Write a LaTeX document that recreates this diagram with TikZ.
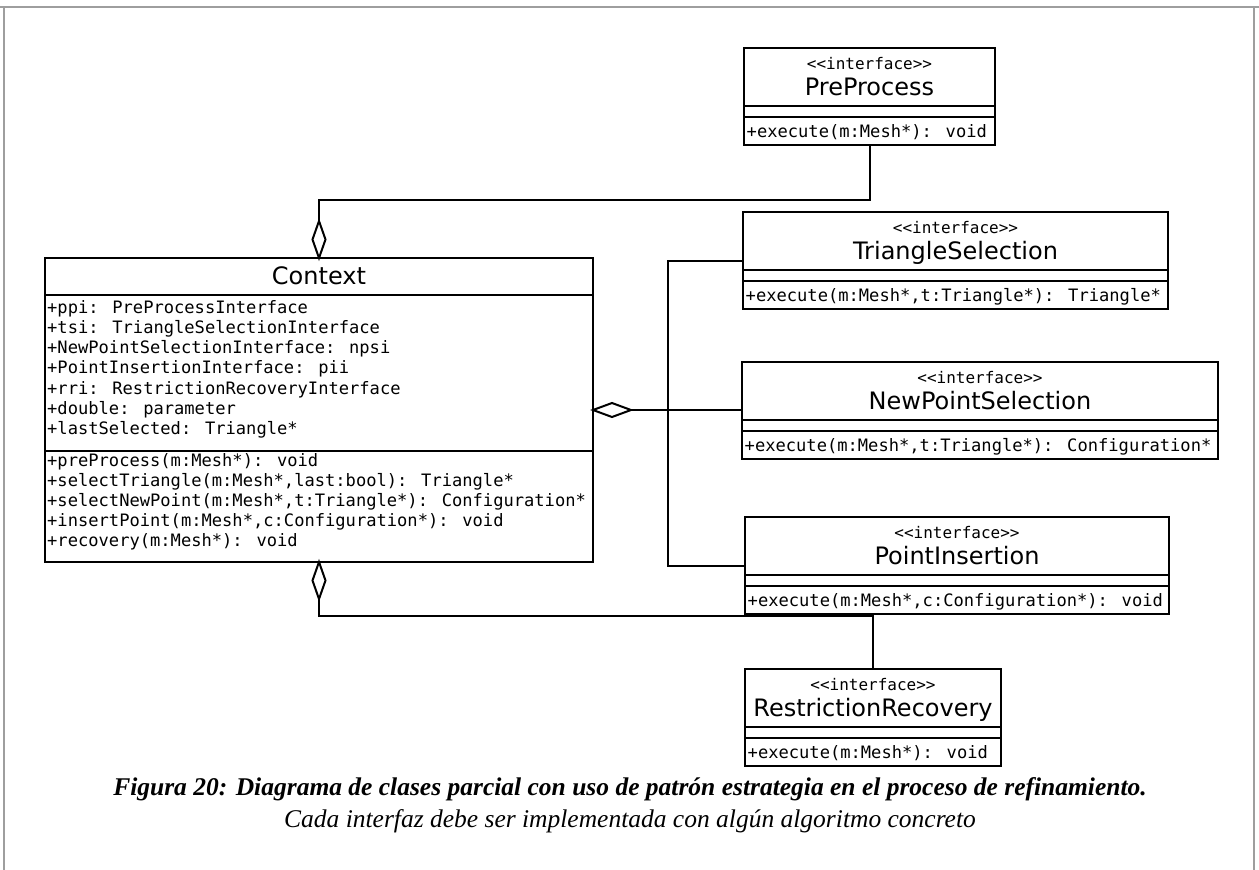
\documentclass[tikz,border=0pt]{standalone}
\usepackage{fontspec}
\setmainfont{Liberation Serif}
\newfontfamily\umlsans{DejaVu Sans}
\newfontfamily\umlmono{DejaVu Sans Mono}
\usetikzlibrary{shapes.geometric}

\tikzset{
  umlbox/.style={draw, line width=2pt, fill=white, rectangle, inner sep=0pt, outer sep=0pt, anchor=north west},
  conn/.style={line width=2pt},
  sepline/.style={line width=2pt},
  agg/.style={draw, diamond, fill=white, line width=2pt, inner sep=0pt, outer sep=0pt},
  monotext/.style={font=\umlmono\fontsize{17.1}{20}\selectfont, inner sep=0pt, anchor=base west},
  stereo/.style={font=\umlmono\fontsize{16}{18}\selectfont, inner sep=0pt, anchor=base},
  cname/.style={font=\umlsans\fontsize{24}{28}\selectfont, inner sep=0pt, anchor=base},
  pageframe/.style={draw=black!38, line width=1.5pt},
  capbold/.style={font=\bfseries\itshape\fontsize{25.5}{30}\selectfont, inner sep=0pt, anchor=base},
  capital/.style={font=\itshape\fontsize{25.5}{30}\selectfont, inner sep=0pt, anchor=base}
}

% id, x1, x2, ytop, name, method
\newcommand\ifacebox[6]{%
  \node[umlbox, minimum width={(#3-#2)*1pt}, minimum height=97pt] (#1) at (#2,#4) {};
  \draw[sepline] (#2,{#4+58}) -- (#3,{#4+58});
  \draw[sepline] (#2,{#4+69}) -- (#3,{#4+69});
  \node[stereo] (#1-st) at ({(#2+#3)/2},{#4+21}) {<{}<interface>{}>};
  \node[cname] (#1-nm) at ({(#2+#3)/2},{#4+47}) {#5};
  \node[monotext] (#1-op) at ({#2+2.5},{#4+89}) {#6};
}

\begin{document}
\begin{tikzpicture}[x=1pt,y=-1pt]
\useasboundingbox (0,0) rectangle (1259,870);
\fill[white] (0,0) rectangle (1259,870);
% page frame
\draw[pageframe] (0,7) -- (1259,7);
\draw[pageframe] (4,7) -- (4,870);
\draw[pageframe] (1254,7) -- (1254,870);

% Context class
\node[umlbox, minimum width=548pt, minimum height=304pt] (ctx) at (45,258) {};
\draw[sepline] (45,294.5) -- (593,294.5);
\draw[sepline] (45,450.5) -- (593,450.5);
\node[cname] (ctx-nm) at (319,284) {Context};
\foreach [count=\i from 0] \t in {{+ppi: PreProcessInterface},{+tsi: TriangleSelectionInterface},{+NewPointSelectionInterface: npsi},{+PointInsertionInterface: pii},{+rri: RestrictionRecoveryInterface},{+double: parameter},{+lastSelected: Triangle*}}
  \node[monotext] (ctx-a\i) at (47,{313+20.3*\i}) {\t};
\foreach [count=\i from 0] \t in {{+preProcess(m:Mesh*): void},{+selectTriangle(m:Mesh*,last:bool): Triangle*},{+selectNewPoint(m:Mesh*,t:Triangle*): Configuration*},{+insertPoint(m:Mesh*,c:Configuration*): void},{+recovery(m:Mesh*): void}}
  \node[monotext] (ctx-m\i) at (47,{466+20*\i}) {\t};

% Interfaces
\ifacebox{pp}{744}{995}{48}{PreProcess}{+execute(m:Mesh*): void}
\ifacebox{ts}{743}{1168}{212}{TriangleSelection}{+execute(m:Mesh*,t:Triangle*): Triangle*}
\ifacebox{nps}{742}{1218}{362}{NewPointSelection}{+execute(m:Mesh*,t:Triangle*): Configuration*}
\ifacebox{pi}{745}{1169}{517}{PointInsertion}{+execute(m:Mesh*,c:Configuration*): void}
\ifacebox{rr}{745}{1001}{669}{RestrictionRecovery}{+execute(m:Mesh*): void}

% aggregation diamonds
\node[agg, minimum width=13pt, minimum height=37pt, anchor=south] (d1) at (ctx.north) {};
\node[agg, minimum width=13pt, minimum height=37pt, anchor=north] (d2) at (ctx.south) {};
\node[agg, minimum width=38pt, minimum height=14pt, anchor=west] (d3) at (ctx.east) {};

% connectors
\draw[conn] (pp.south) -- ++(0,55) -| (d1.north);
\draw[conn] (d2.south) -- ++(0,17) -| (rr.north);
\draw[conn] (d3.east) -- (d3.east -| nps.west);
\coordinate (bus) at (668,410);
\draw[conn] (ts.west) -| (bus) |- (pi.west);

% caption
\node[capbold] (cap1) at (630,795) {Figura 20: Diagrama de clases parcial con uso de patrón estrategia en el proceso de refinamiento.};
\node[capital] (cap2) at (630,827) {Cada interfaz debe ser implementada con algún algoritmo concreto};
\end{tikzpicture}
\end{document}
